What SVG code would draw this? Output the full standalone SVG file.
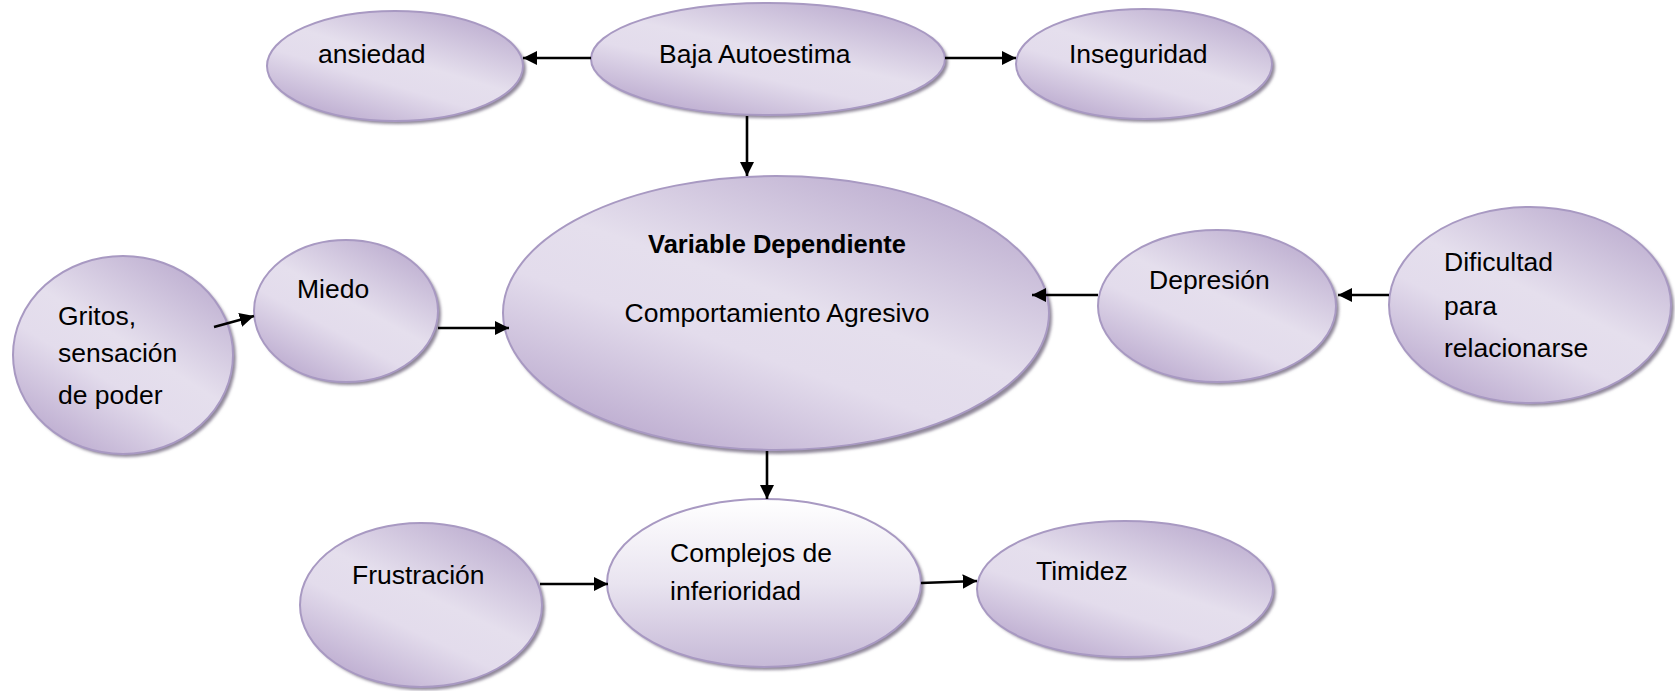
<svg xmlns="http://www.w3.org/2000/svg" width="1675" height="691" viewBox="0 0 1675 691">
<defs>
<linearGradient id="g" x1="0.85" y1="0" x2="0.15" y2="1">
<stop offset="0" stop-color="#b9a9cd"/>
<stop offset="0.45" stop-color="#e5dfed"/>
<stop offset="0.62" stop-color="#e3dcec"/>
<stop offset="1" stop-color="#b6a4cb"/>
</linearGradient>
<linearGradient id="g2" x1="0" y1="0" x2="0" y2="1">
<stop offset="0" stop-color="#ffffff"/>
<stop offset="0.5" stop-color="#e9e4f0"/>
<stop offset="1" stop-color="#c6b9d7"/>
</linearGradient>
<filter id="sh" x="-10%" y="-10%" width="130%" height="130%">
<feGaussianBlur stdDeviation="1.5"/>
</filter>
<marker id="ah" viewBox="0 0 10 10" refX="10" refY="5" markerWidth="5.5" markerHeight="5.5" orient="auto" markerUnits="strokeWidth">
<path d="M0,0 L10,5 L0,10 Z" fill="#000"/>
</marker>
</defs>
<style>
.s{fill:#8f8799;filter:url(#sh);}
.e{fill:url(#g);stroke:#a899c2;stroke-width:2;}
.e2{fill:url(#g2);stroke:#a899c2;stroke-width:2;}
text{font-family:"Liberation Sans",Arial,sans-serif;font-size:26.5px;fill:#000;}
.b{font-weight:bold;font-size:25.5px;}
.c line{stroke:#000;stroke-width:2.6;marker-end:url(#ah);}
</style>
<g id="n-ansiedad">
<ellipse class="s" cx="398" cy="69" rx="128" ry="55"/>
<ellipse class="e" cx="395" cy="66" rx="128" ry="55"/>
<text x="318" y="63">ansiedad</text>
</g>
<g id="n-baja">
<ellipse class="s" cx="771" cy="62" rx="177" ry="56"/>
<ellipse class="e" cx="768" cy="59" rx="177" ry="56"/>
<text x="659" y="63">Baja Autoestima</text>
</g>
<g id="n-inseguridad">
<ellipse class="s" cx="1147" cy="67" rx="128" ry="55"/>
<ellipse class="e" cx="1144" cy="64" rx="128" ry="55"/>
<text x="1069" y="63">Inseguridad</text>
</g>
<g id="n-central">
<ellipse class="s" cx="779" cy="317" rx="273" ry="137"/>
<ellipse class="e" cx="776" cy="313" rx="273" ry="137"/>
<text class="b" x="777" y="253" text-anchor="middle">Variable Dependiente</text>
<text x="777" y="322" text-anchor="middle">Comportamiento Agresivo</text>
</g>
<g id="n-miedo">
<ellipse class="s" cx="349" cy="314" rx="92" ry="71"/>
<ellipse class="e" cx="346" cy="311" rx="92" ry="71"/>
<text x="297" y="298">Miedo</text>
</g>
<g id="n-gritos">
<ellipse class="s" cx="126" cy="358" rx="110" ry="99"/>
<ellipse class="e" cx="123" cy="355" rx="110" ry="99"/>
<text x="58" y="325">Gritos,</text>
<text x="58" y="362">sensación</text>
<text x="58" y="404">de poder</text>
</g>
<g id="n-depresion">
<ellipse class="s" cx="1220" cy="309" rx="119" ry="76"/>
<ellipse class="e" cx="1217" cy="306" rx="119" ry="76"/>
<text x="1149" y="289">Depresión</text>
</g>
<g id="n-dificultad">
<ellipse class="s" cx="1533" cy="308" rx="141" ry="98"/>
<ellipse class="e" cx="1530" cy="305" rx="141" ry="98"/>
<text x="1444" y="271">Dificultad</text>
<text x="1444" y="315">para</text>
<text x="1444" y="357">relacionarse</text>
</g>
<g id="n-complejos">
<ellipse class="s" cx="767" cy="586" rx="157" ry="84"/>
<ellipse class="e2" cx="764" cy="583" rx="157" ry="84"/>
<text x="670" y="562">Complejos de</text>
<text x="670" y="600">inferioridad</text>
</g>
<g id="n-frustracion">
<ellipse class="s" cx="424" cy="608" rx="121" ry="82"/>
<ellipse class="e" cx="421" cy="605" rx="121" ry="82"/>
<text x="352" y="584">Frustración</text>
</g>
<g id="n-timidez">
<ellipse class="s" cx="1128" cy="592" rx="148" ry="68"/>
<ellipse class="e" cx="1125" cy="589" rx="148" ry="68"/>
<text x="1036" y="580">Timidez</text>
</g>
<g id="connectors" class="c">
<line x1="591" y1="58" x2="523" y2="58"/>
<line x1="945" y1="58" x2="1016" y2="58"/>
<line x1="747" y1="116" x2="747" y2="176"/>
<line x1="214" y1="327" x2="254" y2="316"/>
<line x1="438" y1="328" x2="509" y2="328"/>
<line x1="1098" y1="295" x2="1032" y2="295"/>
<line x1="1389" y1="295" x2="1338" y2="295"/>
<line x1="767" y1="451" x2="767" y2="499"/>
<line x1="540" y1="584" x2="608" y2="584"/>
<line x1="921" y1="583" x2="977" y2="581"/>
</g>
</svg>
